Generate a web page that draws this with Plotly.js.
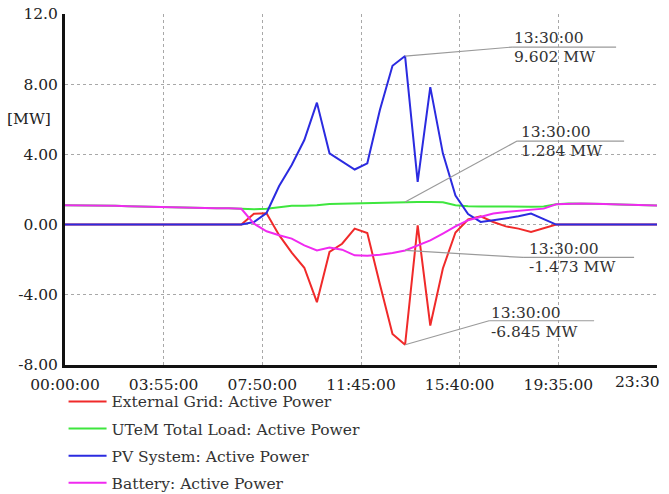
<!DOCTYPE html>
<html>
<head>
<meta charset="utf-8">
<script src="https://cdn.plot.ly/plotly-3.0.1.min.js"></script>
<style>html,body{margin:0;padding:0;background:#fff;}#chart{width:669px;height:494px;}</style>
</head>
<body>
<div id="chart"></div>
<script>
// ---- data (30-minute samples) ----
var times = ["00:00","00:30","01:00","01:30","02:00","02:30","03:00","03:30","04:00","04:30","05:00","05:30",
             "06:00","06:30","07:00","07:30","08:00","08:30","09:00","09:30","10:00","10:30","11:00","11:30",
             "12:00","12:30","13:00","13:30","14:00","14:30","15:00","15:30","16:00","16:30","17:00","17:30",
             "18:00","18:30","19:00","19:30","20:00","20:30","21:00","21:30","22:00","22:30","23:00","23:30"];

var externalGrid = [0,0,0,0,0,0,0,0,0,0,0,0,
                    0,0,0,0.62,0.65,-0.6,-1.6,-2.46,-4.42,-1.56,-1.09,-0.23,
                    -0.48,-3.4,-6.23,-6.845,-0.04,-5.75,-2.5,-0.45,0.29,0.47,0.15,-0.1,
                    -0.23,-0.42,-0.19,0,0,0,0,0,0,0,0,0];

var totalLoad = [1.10,1.10,1.09,1.08,1.07,1.05,1.03,1.01,0.99,0.97,0.95,0.92,
                 0.93,0.93,0.88,0.87,0.90,1.00,1.07,1.08,1.10,1.18,1.20,1.20,
                 1.22,1.24,1.26,1.284,1.29,1.29,1.27,1.10,1.04,1.03,1.02,1.02,
                 1.02,1.02,1.03,1.16,1.20,1.20,1.19,1.17,1.15,1.13,1.11,1.09];

var pvSystem = [0,0,0,0,0,0,0,0,0,0,0,0,
                0,0,0,0.15,0.66,2.2,3.4,4.82,6.95,4.06,3.62,3.14,
                3.49,6.53,9.05,9.602,2.44,7.83,4.06,1.66,0.6,0.15,0.25,0.34,
                0.47,0.63,0.3,0,0,0,0,0,0,0,0,0];

var battery = [1.10,1.10,1.09,1.08,1.07,1.05,1.03,1.01,0.99,0.97,0.95,0.92,
               0.93,0.93,0.90,0.05,-0.38,-0.61,-0.80,-1.18,-1.47,-1.31,-1.43,-1.75,
               -1.78,-1.72,-1.62,-1.473,-1.18,-0.90,-0.51,-0.10,0.25,0.43,0.63,0.72,
               0.78,0.85,0.91,1.16,1.20,1.20,1.19,1.17,1.15,1.13,1.11,1.09];

var seriesNames = ["External Grid: Active Power","UTeM Total Load: Active Power","PV System: Active Power","Battery: Active Power"];
var seriesColors = ["#f02a2a","#3ee63e","#2b2be0","#f02af0"];

var xTickVals = ["00:00","03:55","07:50","11:45","15:40","19:35","23:30"];
var xTickText = ["00:00:00","03:55:00","07:50:00","11:45:00","15:40:00","19:35:00","23:30"];
var yTickVals = [-8,-4,0,4,8,12];
var yTickText = ["-8.00","-4.00","0.00","4.00","8.00","12.0"];
var yUnit = "[MW]";
var markTime = "13:30";
var markLabel = "13:30:00";

function toMin(t){var p=t.split(":");return (+p[0])*60+(+p[1]);}
var xs = times.map(toMin);
var FONT = "DejaVu Serif";
var FS = 15.5;

var all = [externalGrid,totalLoad,pvSystem,battery];
var traces = all.map(function(v,i){
  return {x:xs,y:v,type:"scatter",mode:"lines",name:seriesNames[i],legendgroup:"g"+i,
          line:{color:seriesColors[i],width:2}};
});

var mi = times.indexOf(markTime);
var mx = xs[mi];
var callouts = [
  {s:0, bend:[84,24], end:189, tdx:84, top:32, bot:13},
  {s:1, bend:[112,61], end:219, tdx:114, top:70, bot:51},
  {s:2, bend:[107,9], end:211, tdx:107, top:18, bot:-1},
  {s:3, bend:[118,-7], end:229, tdx:122, top:1, bot:-17}
];
var shapes=[], annotations=[];
callouts.forEach(function(c){
  var yv = all[c.s][mi];
  var base = {type:"line",xref:"x",yref:"y",xsizemode:"pixel",ysizemode:"pixel",xanchor:mx,yanchor:yv,
              line:{color:"#9a9a9a",width:1.2}};
  shapes.push(Object.assign({},base,{x0:0,y0:0,x1:c.bend[0],y1:c.bend[1]}));
  shapes.push(Object.assign({},base,{x0:c.bend[0],y0:c.bend[1],x1:c.end,y1:c.bend[1]}));
  annotations.push({x:mx,y:yv,xref:"x",yref:"y",showarrow:false,xanchor:"left",yanchor:"middle",
    xshift:c.tdx,yshift:c.top,text:markLabel,font:{family:FONT,size:FS,color:"#333"}});
  annotations.push({x:mx,y:yv,xref:"x",yref:"y",showarrow:false,xanchor:"left",yanchor:"middle",
    xshift:c.tdx,yshift:c.bot,text:yv.toFixed(3)+" MW",font:{family:FONT,size:FS,color:"#333"}});
});
annotations.push({x:0,y:6,xref:"paper",yref:"y",xanchor:"right",yanchor:"middle",xshift:-12,showarrow:false,
  text:yUnit,font:{family:FONT,size:FS,color:"#222"}});
var lastX = toMin(xTickVals[xTickVals.length-1]);
annotations.push({x:lastX,y:0,xref:"x",yref:"paper",xanchor:"right",yanchor:"top",xshift:5,yshift:-6,showarrow:false,
  text:xTickText[xTickText.length-1],font:{family:FONT,size:FS,color:"#222"}});

var layout = {
  width:669,height:494,
  margin:{l:65,r:12,t:14,b:129,autoexpand:false},
  paper_bgcolor:"#fff",plot_bgcolor:"#fff",
  font:{family:FONT,size:FS,color:"#222"},
  showlegend:true,
  legend:{x:0.095,y:0.221,xref:"container",yref:"container",xanchor:"left",yanchor:"top",tracegroupgap:4,
          font:{family:FONT,size:FS,color:"#333"},bgcolor:"rgba(0,0,0,0)",itemwidth:38},
  xaxis:{range:[0,1410],tickmode:"array",tickvals:xTickVals.map(toMin),
         ticktext:xTickText.map(function(t,i){return i===xTickText.length-1?"":t;}),
         showgrid:true,gridcolor:"#a8a8a8",griddash:"dot",gridwidth:1,zeroline:false,
         showline:true,linecolor:"#111",linewidth:3,ticks:"",ticklabelstandoff:3,
         tickfont:{family:FONT,size:FS,color:"#222"}},
  yaxis:{range:[-8,12],tickmode:"array",tickvals:yTickVals,ticktext:yTickText,
         showgrid:true,gridcolor:"#a8a8a8",griddash:"dot",gridwidth:1,zeroline:false,
         showline:true,linecolor:"#111",linewidth:3,ticks:"",ticklabelstandoff:1,
         tickfont:{family:FONT,size:FS,color:"#222"}},
  shapes:shapes,annotations:annotations
};
Plotly.newPlot("chart",traces,layout,{displayModeBar:false,staticPlot:true});
</script>
</body>
</html>
